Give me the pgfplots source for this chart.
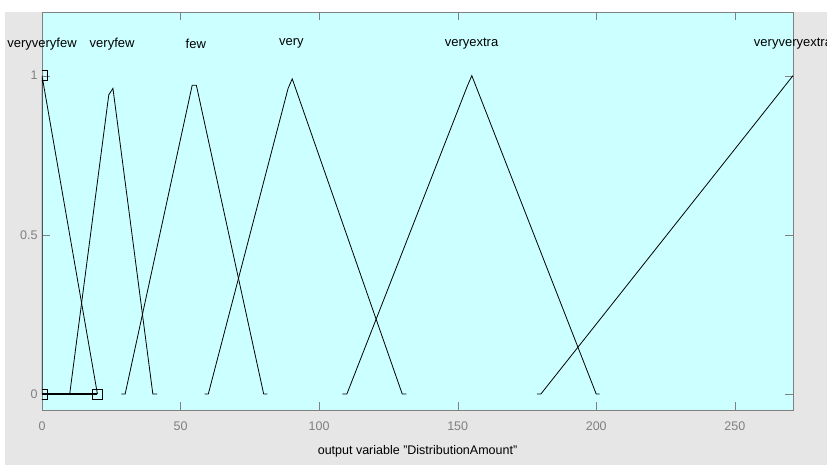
\documentclass[border=0pt]{standalone}
\usepackage{pgfplots}
\pgfplotsset{compat=1.18}
\usepackage{fontspec}
\setmainfont{Liberation Sans}
\definecolor{mfcyan}{RGB}{204,255,255}
\definecolor{bggray}{RGB}{230,230,230}
\definecolor{axgray}{RGB}{128,128,128}
\begin{document}
\begin{tikzpicture}
\clip (0,0) rectangle (827pt,465pt);
\fill[white] (0,0) rectangle (827pt,465pt);
\fill[bggray] (5pt,0) rectangle (827pt,453pt);
\begin{axis}[
  at={(42pt,55pt)}, anchor=south west,
  scale only axis, width=751pt, height=398pt,
  xmin=0, xmax=271, ymin=-0.05, ymax=1.2,
  axis background/.style={fill=mfcyan},
  axis line style={axgray},
  xtick={0,50,100,150,200,250},
  ytick={0,0.5,1},
  tick align=inside, tick pos=both,
  major tick length=8pt,
  xtick style={axgray},
  ytick style={axgray},
  /pgf/number format/assume math mode=true,
  tick label style={font=\fontsize{12.5}{12.5}\selectfont, text=axgray},
  xticklabel style={anchor=center, yshift=-16pt},
  yticklabel style={anchor=east, xshift=-1pt},
  xlabel={output variable "DistributionAmount"},
  xlabel style={at={(axis description cs:0.5,0)}, anchor=center, yshift=-41pt, font=\fontsize{12.5}{12.5}\selectfont},
  clip mode=individual, clip marker paths=true,
]
% veryveryfew
\addplot[black, line width=0.8pt] coordinates {(0,0) (0,1) (20,0)};
\addplot[black, line width=1.6pt, mark=square, mark size=5pt, mark options={line width=0.9pt}] coordinates {(0,0) (20,0)};
\addplot[black, only marks, mark=square, mark size=5pt, mark options={line width=0.9pt}] coordinates {(0,1)};
% veryfew
\addplot[black, line width=0.8pt] coordinates {(10,0) (24.1,0.94) (25.6,0.96) (40,0) (41.5,0)};
% few
\addplot[black, line width=0.8pt] coordinates {(28.6,0) (30,0) (54.2,0.97) (55.7,0.97) (80,0) (81.3,0)};
% very
\addplot[black, line width=0.8pt] coordinates {(58.7,0) (60,0) (88.8,0.96) (90.3,0.99) (130,0) (131.5,0)};
% veryextra
\addplot[black, line width=0.8pt] coordinates {(108.4,0) (110,0) (153.6,0.97) (155.1,1.0) (200,0) (201.2,0)};
% veryveryextra
\addplot[black, line width=0.8pt] coordinates {(178.7,0) (180,0) (271,1)};
\begin{scope}[font=\fontsize{13}{13}\selectfont]
\node[anchor=center] at (axis cs:0,1.1) {veryveryfew};
\node[anchor=center] at (axis cs:25.3,1.1) {veryfew};
\node[anchor=center] at (axis cs:55.5,1.1) {few};
\node[anchor=center] at (axis cs:90,1.1) {very};
\node[anchor=center] at (axis cs:155,1.1) {veryextra};
\node[anchor=center] at (axis cs:271,1.1) {veryveryextra};
\end{scope}
\end{axis}
\end{tikzpicture}
\end{document}
